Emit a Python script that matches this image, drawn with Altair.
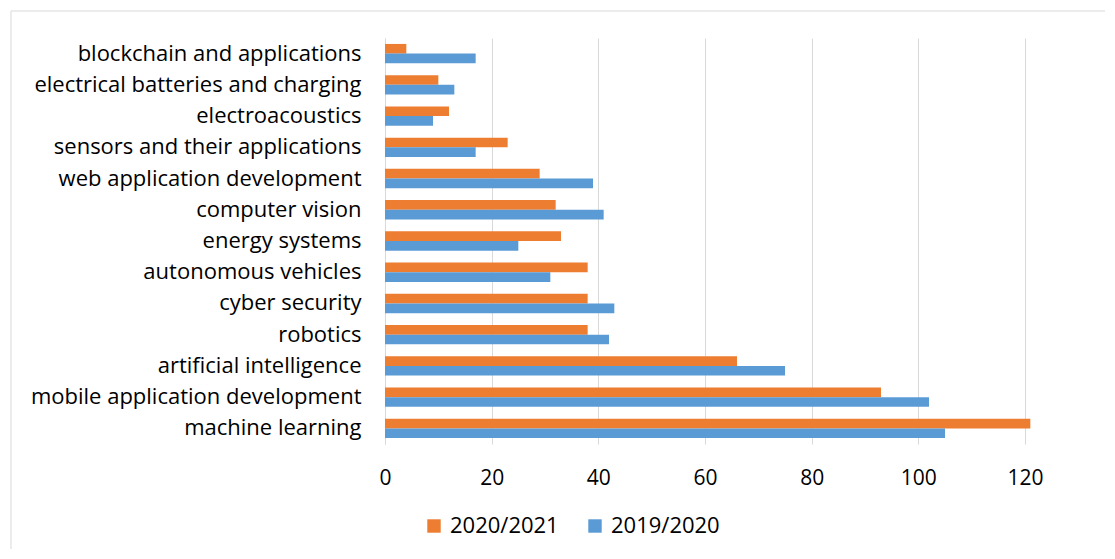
import altair as alt
import pandas as pd

categories = [
    "blockchain and applications",
    "electrical batteries and charging",
    "electroacoustics",
    "sensors and their applications",
    "web application development",
    "computer vision",
    "energy systems",
    "autonomous vehicles",
    "cyber security",
    "robotics",
    "artificial intelligence",
    "mobile application development",
    "machine learning",
]
series = ["2020/2021", "2019/2020"]
values_2020_2021 = [4, 10, 12, 23, 29, 32, 33, 38, 38, 38, 66, 93, 121]
values_2019_2020 = [17, 13, 9, 17, 39, 41, 25, 31, 43, 42, 75, 102, 105]
x_ticks = [0, 20, 40, 60, 80, 100, 120]
colors = ["#ED7D31", "#5B9BD5"]

rows = []
for c, a, b in zip(categories, values_2020_2021, values_2019_2020):
    rows.append({"topic": c, "year": series[0], "value": a})
    rows.append({"topic": c, "year": series[1], "value": b})
df = pd.DataFrame(rows)

FONT = "Open Sans"

bars = alt.Chart(df).mark_bar(clip=False).encode(
    x=alt.X("value:Q",
            scale=alt.Scale(domain=[0, 120], nice=False),
            axis=alt.Axis(values=x_ticks, title=None, grid=True, gridColor="#D9D9D9",
                          domain=False, ticks=False, labelPadding=23,
                          labelFontSize=21, labelColor="#000000", labelFont=FONT,
                          labelFlush=False)),
    y=alt.Y("topic:N", sort=categories,
            scale=alt.Scale(paddingInner=0.38, paddingOuter=0.19),
            axis=alt.Axis(title=None, ticks=False, domain=True, domainColor="#D9D9D9",
                          labelPadding=24, labelFontSize=22, labelColor="#000000",
                          labelFont=FONT, labelLimit=400)),
    yOffset=alt.YOffset("year:N", sort=series),
    color=alt.Color("year:N", sort=series,
                    scale=alt.Scale(domain=series, range=colors),
                    legend=alt.Legend(title=None, orient="none", direction="horizontal",
                                      legendX=38, legendY=477, symbolType="square",
                                      symbolSize=180, symbolStrokeWidth=0,
                                      labelFontSize=22, labelFont=FONT,
                                      labelColor="#000000", columnPadding=25,
                                      labelOffset=5, symbolOffset=0)),
)

frame = alt.Chart(pd.DataFrame({"a": [0]})).mark_rect(
    fill=None, stroke="#D9D9D9", strokeWidth=1, clip=False
).encode(
    x=alt.value(-374), x2=alt.value(760), y=alt.value(-27), y2=alt.value(560)
)

chart = alt.layer(frame, bars).properties(
    width=640, height=406,
    autosize=alt.AutoSizeParams(type="none"),
    padding={"left": 377, "top": 30, "right": 80, "bottom": 105},
    background="#FFFFFF",
).configure_view(stroke=None)

chart.save("out.html", embed_options={"renderer": "svg", "actions": False})
